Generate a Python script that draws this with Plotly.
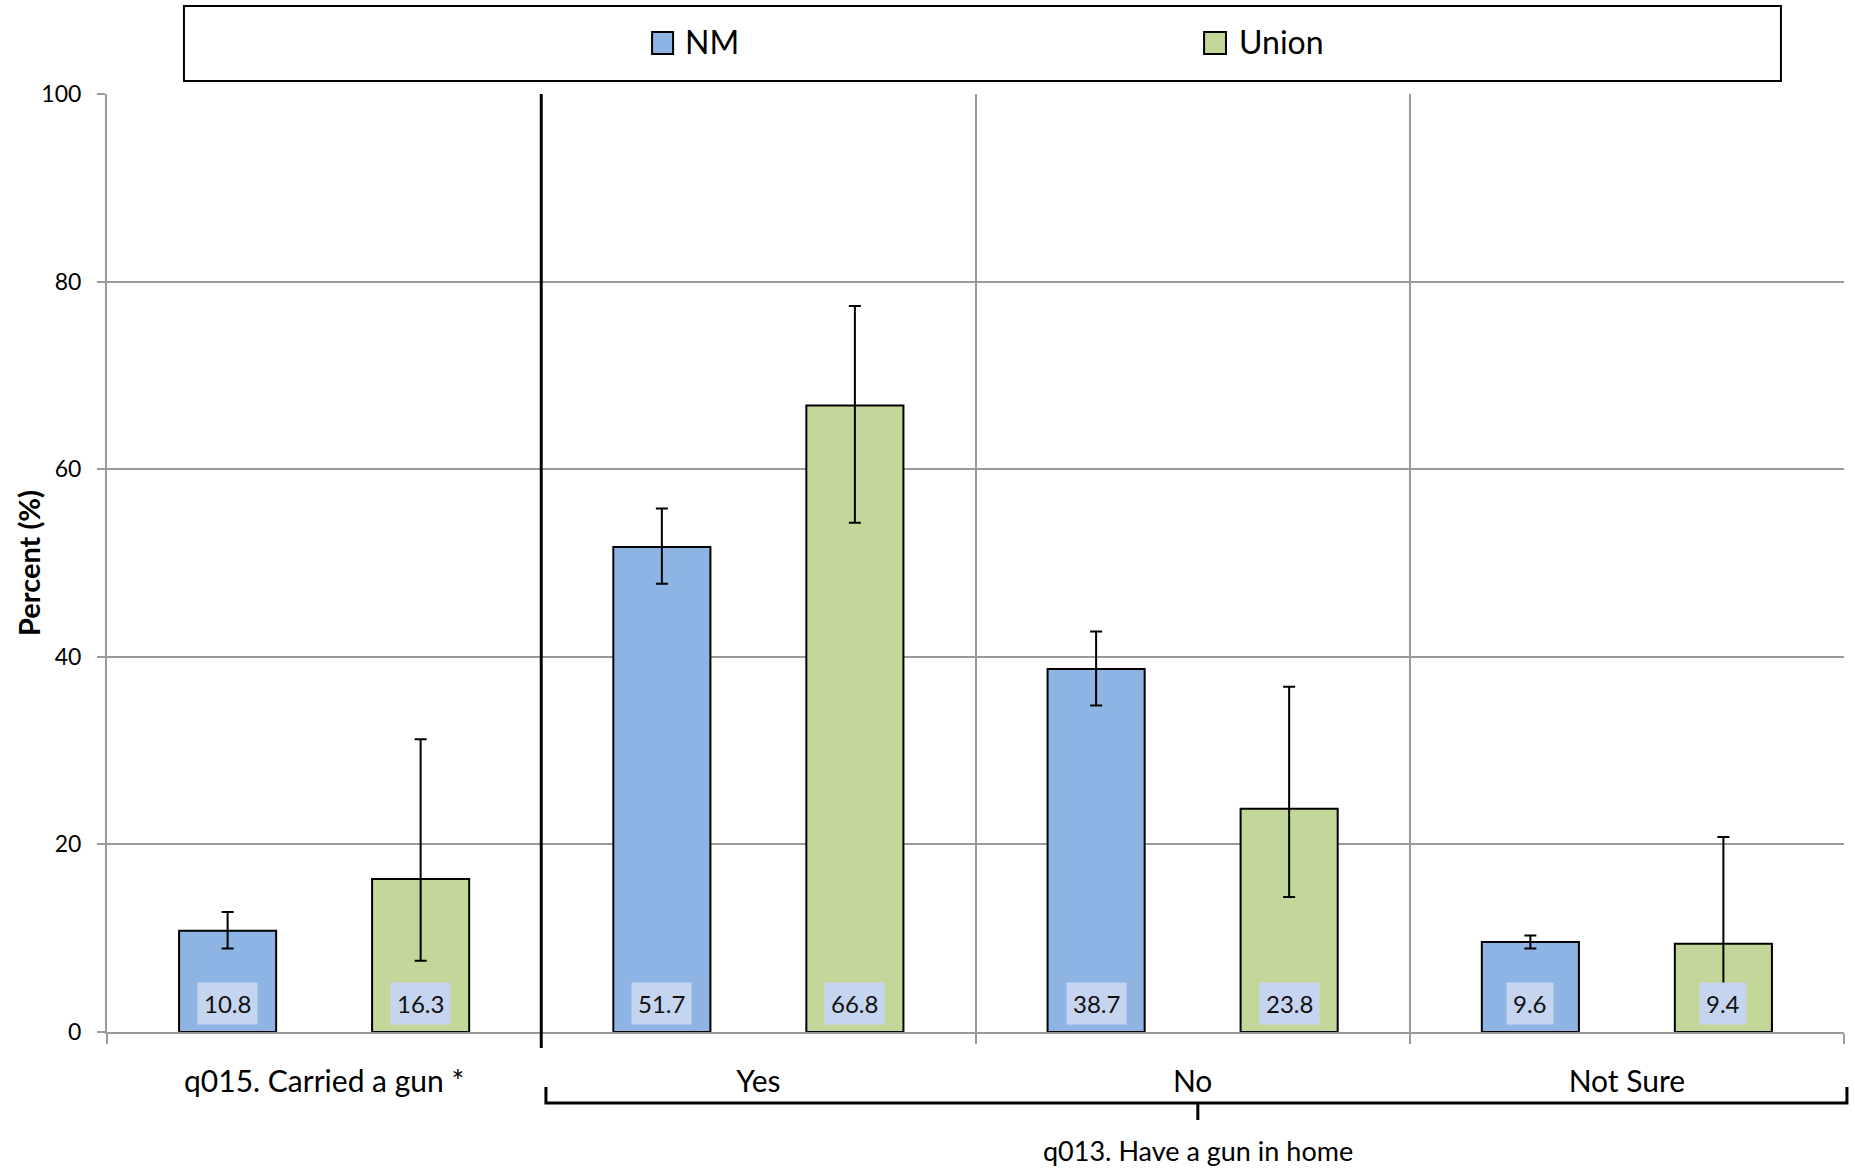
import plotly.graph_objects as go

categories = ["q015. Carried a gun *", "Yes", "No", "Not Sure"]
nm_values = [10.8, 51.7, 38.7, 9.6]
nm_upper = [12.8, 55.8, 42.7, 10.3]
nm_lower = [8.9, 47.8, 34.8, 8.9]
union_values = [16.3, 66.8, 23.8, 9.4]
union_upper = [31.2, 77.4, 36.8, 20.8]
union_lower = [7.6, 54.3, 14.4, 4.0]
series_names = ["NM", "Union"]
y_ticks = [0, 20, 40, 60, 80, 100]
y_title = "Percent (%)"
group_title = "q013. Have a gun in home"

NM_COLOR = "#8eb4e3"
UNION_COLOR = "#c4d79b"
GRID = "#9a9a9a"
FONT = "Lato, 'Open Sans', sans-serif"

fig = go.Figure()

def add_series(name, vals, hi, lo, color):
    fig.add_trace(go.Bar(
        name=name, x=categories, y=vals,
        marker=dict(color=color, line=dict(color="black", width=2)),
        error_y=dict(type="data", symmetric=False,
                     array=[h - v for h, v in zip(hi, vals)],
                     arrayminus=[v - l for v, l in zip(vals, lo)],
                     color="black", thickness=2, width=6),
        showlegend=False,
    ))

add_series(series_names[0], nm_values, nm_upper, nm_lower, NM_COLOR)
add_series(series_names[1], union_values, union_upper, union_lower, UNION_COLOR)

# data labels in boxes at the base of each bar
for vals, shift in ((nm_values, -96.5), (union_values, 96.5)):
    for c, v in zip(categories, vals):
        fig.add_annotation(x=c, y=0, xref="x", yref="y", text=f"{v:.1f}",
                           showarrow=False, xshift=shift, yanchor="bottom", yshift=7,
                           font=dict(family=FONT, size=24, color="#111"),
                           bgcolor="#c6d5ef", borderpad=6)

shapes = []
# divider line between first category and the group
shapes.append(dict(type="line", xref="x", yref="paper", x0=0.5, x1=0.5, y0=1, y1=-0.017,
                   line=dict(color="black", width=3), layer="above"))
# bracket under the grouped categories
bx0, bx1, bxc = 0.2527, 1.0017, 0.628
by_top, by_line, by_tick = -0.0586, -0.0757, -0.0938
shapes.append(dict(type="path", xref="paper", yref="paper",
                   path=f"M {bx0},{by_top} L {bx0},{by_line} L {bx1},{by_line} L {bx1},{by_top} "
                        f"M {bxc},{by_line} L {bxc},{by_tick}",
                   line=dict(color="black", width=3)))
# legend box
shapes.append(dict(type="rect", xref="paper", yref="paper", x0=0.0443, x1=0.9637,
                   y0=1.0139, y1=1.0938, line=dict(color="black", width=2), fillcolor="white"))
# legend swatches
for (sx0, sx1), col in (((0.3138, 0.3259), NM_COLOR), ((0.6316, 0.6442), UNION_COLOR)):
    shapes.append(dict(type="rect", xref="paper", yref="paper", x0=sx0, x1=sx1,
                       y0=1.0426, y1=1.0661, line=dict(color="black", width=2), fillcolor=col))

for name, tx in zip(series_names, (0.3316, 0.6505)):
    fig.add_annotation(x=tx, y=1.0565, xref="paper", yref="paper", text=name, showarrow=False,
                       xanchor="left", yanchor="middle", font=dict(family=FONT, size=32, color="black"))

fig.add_annotation(x=bxc, y=-0.126, xref="paper", yref="paper", text=group_title, showarrow=False,
                   xanchor="center", yanchor="middle", font=dict(family=FONT, size=27, color="black"))

# y-axis title
fig.add_annotation(x=-0.0455, y=0.5, xref="paper", yref="paper", text=f"<b>{y_title}</b>",
                   showarrow=False, textangle=-90, xanchor="center", yanchor="middle",
                   font=dict(family=FONT, size=29, color="black"))

fig.update_layout(
    width=1855, height=1168,
    margin=dict(l=107, r=11, t=94, b=136),
    plot_bgcolor="white", paper_bgcolor="white",
    barmode="group", bargap=0.111, bargroupgap=0.497,
    shapes=shapes,
    font=dict(family=FONT, color="black"),
    xaxis=dict(type="category", showline=True, linecolor=GRID, linewidth=2,
               ticks="outside", tickson="boundaries", ticklen=10, tickcolor=GRID, tickwidth=2,
               showgrid=True, gridcolor=GRID, gridwidth=2,
               tickfont=dict(family=FONT, size=30, color="black"), ticklabelstandoff=22),
    yaxis=dict(range=[0, 100], tickvals=y_ticks, showline=True, linecolor=GRID, linewidth=2,
               ticks="outside", ticklen=8, tickcolor=GRID, tickwidth=2,
               showgrid=True, gridcolor=GRID, gridwidth=2, zeroline=False,
               tickfont=dict(family=FONT, size=23, color="black"), ticklabelstandoff=11),
)

fig.write_html("out.html", config={"displayModeBar": False},
               post_script="document.body.style.margin='0';document.body.style.overflow='hidden';")
